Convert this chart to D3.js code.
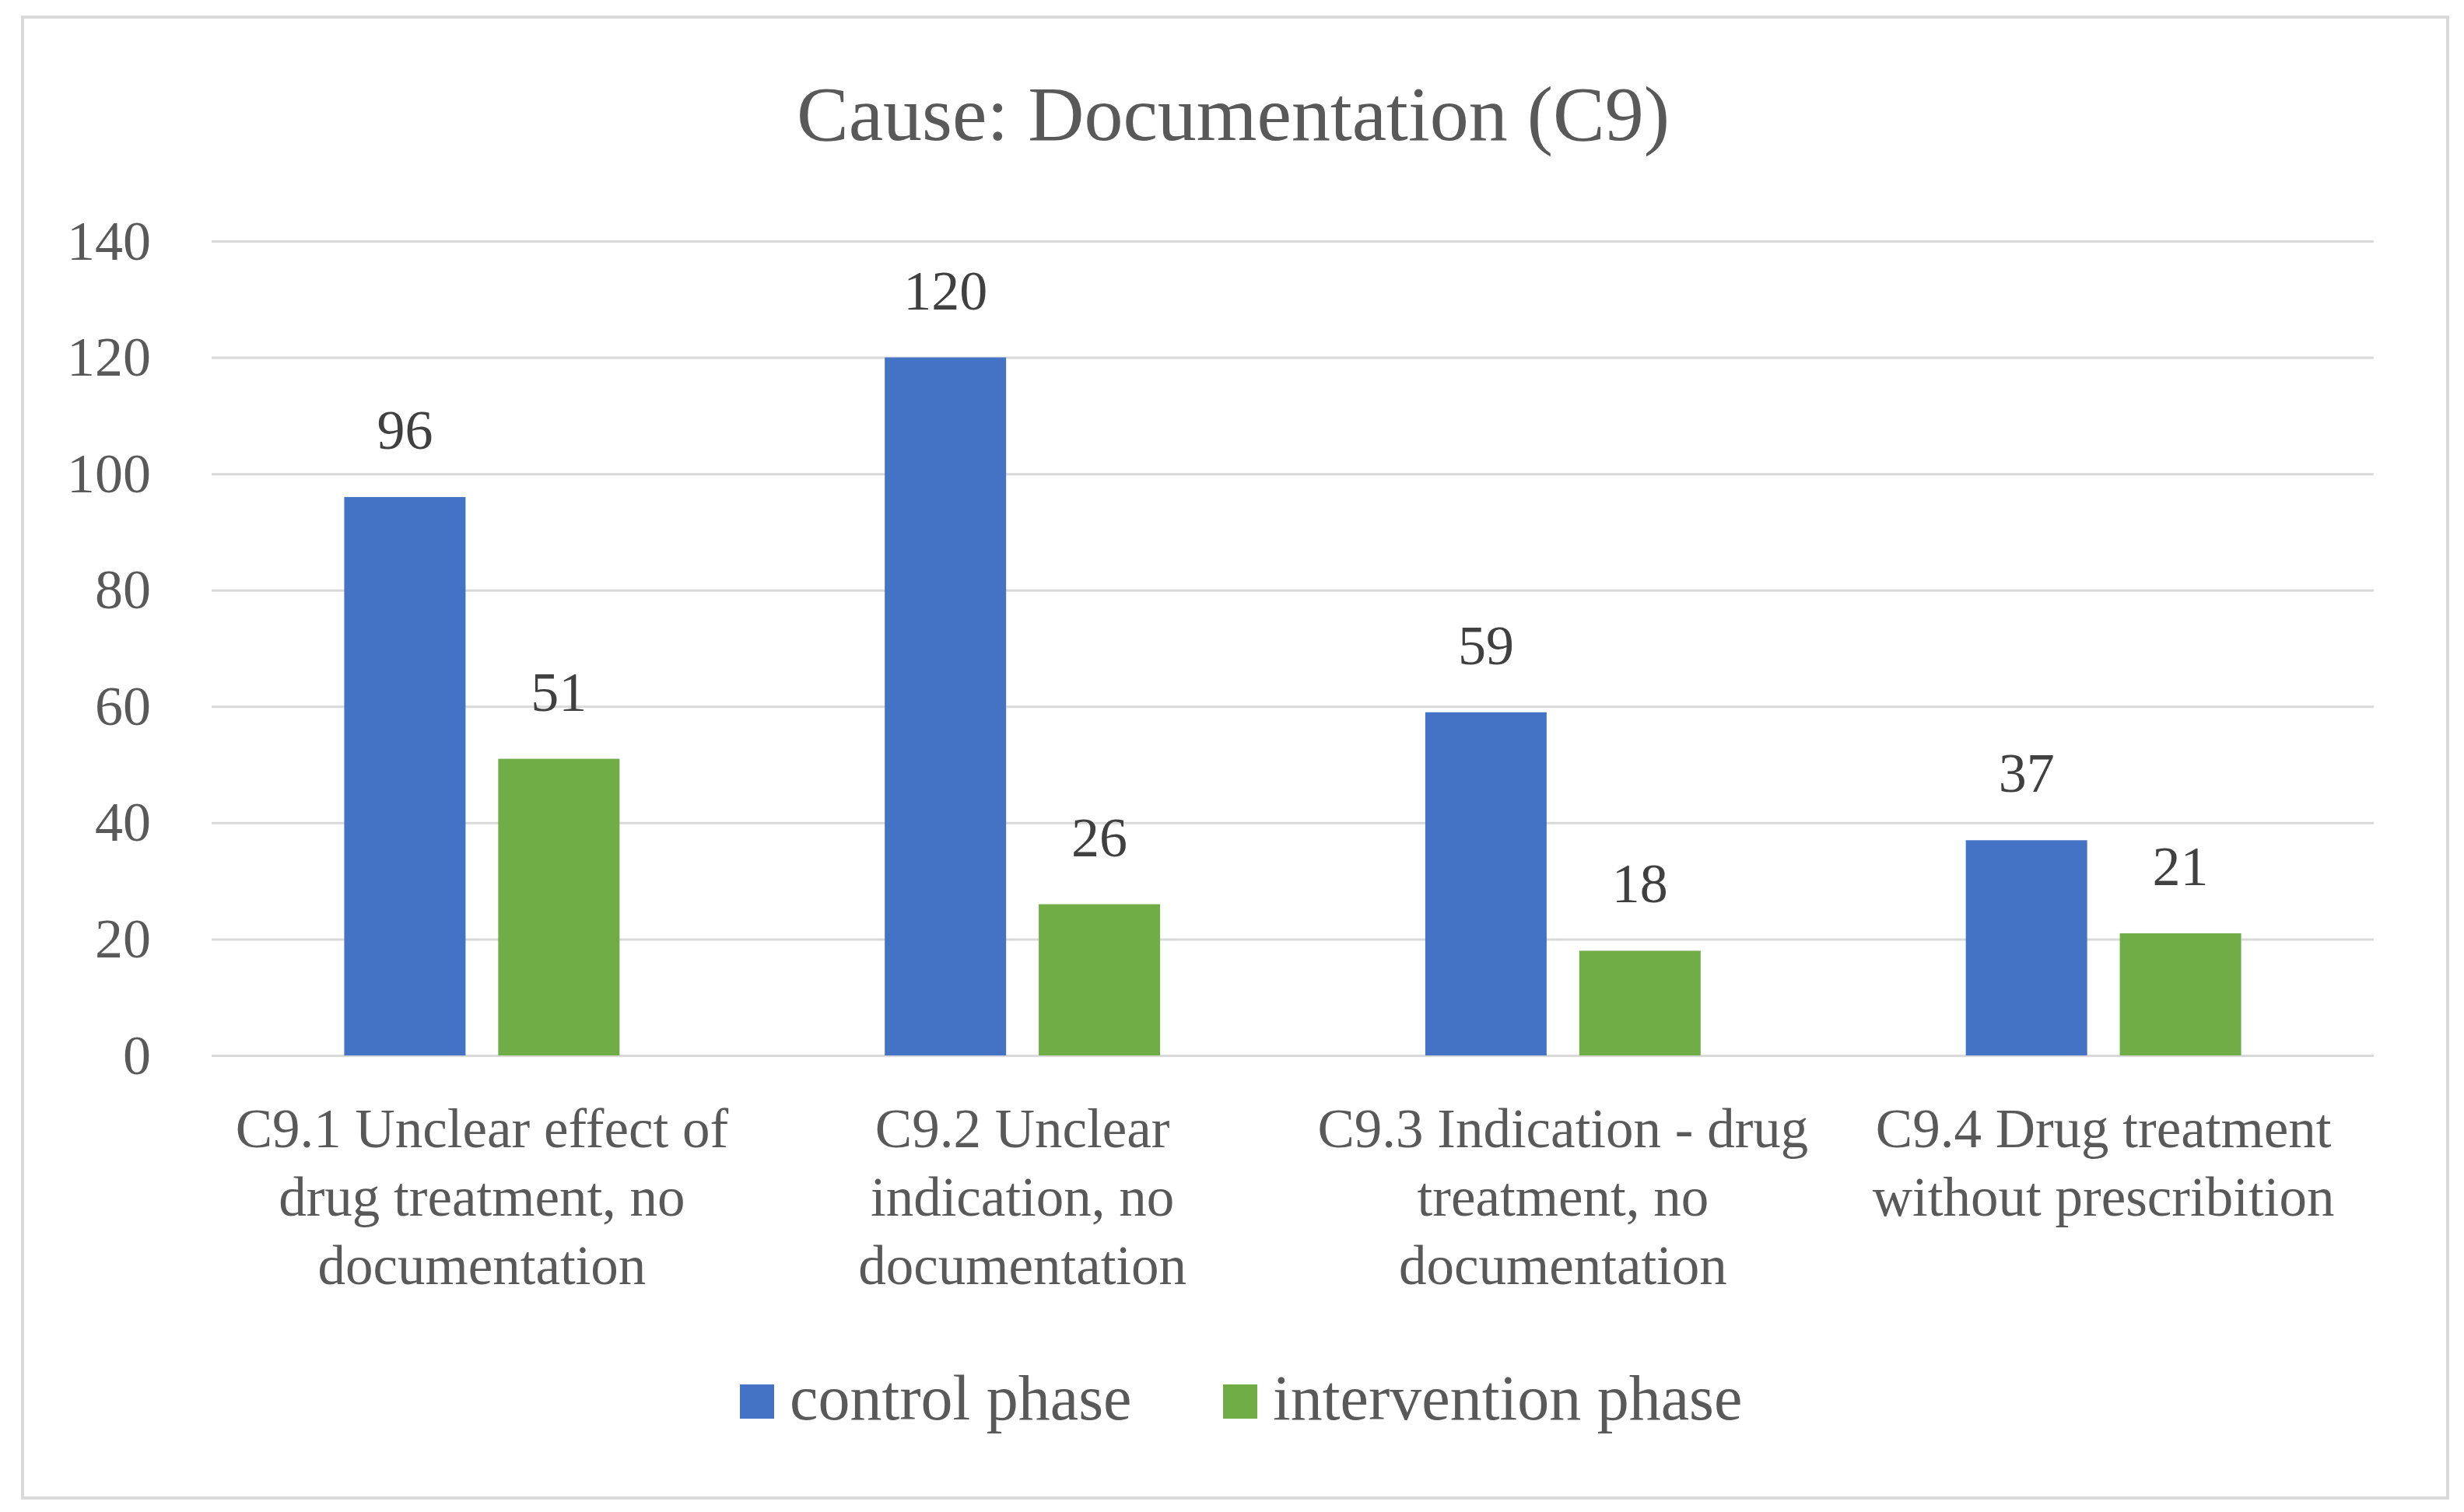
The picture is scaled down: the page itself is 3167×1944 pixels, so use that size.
<!DOCTYPE html>
<html>
<head>
<meta charset="utf-8">
<script src="https://cdn.jsdelivr.net/npm/d3@7"></script>
<style>
  body { margin: 0; background: #fff; }
  text { font-family: "Liberation Serif", "Times New Roman", serif; }
</style>
</head>
<body>
<div id="chart"></div>
<script>
// data
const categories = ["C9.1", "C9.2", "C9.3", "C9.4"];
const categoryLines = [
    ["C9.1 Unclear effect of", "drug treatment, no", "documentation"],
    ["C9.2 Unclear", "indication, no", "documentation"],
    ["C9.3 Indication - drug", "treatment, no", "documentation"],
    ["C9.4 Drug treatment", "without prescribition"]
];
const seriesNames = ["control phase", "intervention phase"];
const controlValues = [96, 120, 59, 37];
const interventionValues = [51, 26, 18, 21];
const yTicks = [0, 20, 40, 60, 80, 100, 120, 140];
const colors = ["#4472C4", "#70AD47"];

const width = 3167, height = 1944;
const plotLeft = 272, plotRight = 3051, plotTop = 310, plotBottom = 1357;

const svg = d3.select("#chart").append("svg")
    .attr("width", width)
    .attr("height", height);

svg.append("rect")
    .attr("x", 29).attr("y", 22)
    .attr("width", 3117).attr("height", 1904)
    .attr("fill", "#fff")
    .attr("stroke", "#d9d9d9")
    .attr("stroke-width", 4);

const yScale = d3.scaleLinear().domain([0, 140]).range([plotBottom, plotTop]);
const x0 = d3.scaleBand().domain(categories).range([plotLeft, plotRight]).padding(0);
const x1 = d3.scaleBand().domain(seriesNames).range([0, x0.bandwidth()])
    .paddingInner(0.212).paddingOuter(0.861);

// y axis + gridlines
const yAxis = svg.append("g")
    .attr("transform", `translate(${plotLeft},0)`)
    .call(d3.axisLeft(yScale).tickValues(yTicks).tickSize(-(plotRight - plotLeft)).tickPadding(78));
yAxis.select(".domain").remove();
yAxis.selectAll("line").attr("stroke", "#d9d9d9").attr("stroke-width", 3);
yAxis.selectAll("text")
    .attr("fill", "#595959")
    .style("font-size", "72px")
    .style("font-family", "Liberation Serif");

// bars
const rows = categories.map((c, i) => ({ cat: c, values: [controlValues[i], interventionValues[i]] }));

const groups = svg.selectAll(".group")
    .data(rows)
    .enter()
    .append("g")
    .attr("transform", d => `translate(${x0(d.cat)},0)`);

groups.selectAll("rect")
    .data(d => d.values.map((v, j) => ({ name: seriesNames[j], value: v, j: j })))
    .enter()
    .append("rect")
    .attr("x", d => x1(d.name))
    .attr("y", d => yScale(d.value))
    .attr("width", x1.bandwidth())
    .attr("height", d => yScale(0) - yScale(d.value))
    .attr("fill", d => colors[d.j]);

groups.selectAll(".val")
    .data(d => d.values.map((v, j) => ({ name: seriesNames[j], value: v })))
    .enter()
    .append("text")
    .attr("class", "val")
    .attr("x", d => x1(d.name) + x1.bandwidth() / 2)
    .attr("y", d => yScale(d.value) - 62)
    .attr("text-anchor", "middle")
    .attr("fill", "#404040")
    .style("font-size", "72px")
    .text(d => d.value);

// category labels
const xAxis = svg.append("g")
    .attr("transform", `translate(0,${plotBottom})`)
    .call(d3.axisBottom(x0).tickSize(0));
xAxis.select(".domain").remove();
xAxis.selectAll("text").each(function(d, i) {
    const t = d3.select(this).text("").attr("y", 0).attr("dy", null)
        .attr("fill", "#595959")
        .style("font-size", "71px")
        .style("font-family", "Liberation Serif");
    categoryLines[i].forEach((line, k) => {
        t.append("tspan").attr("x", 0).attr("y", 118 + k * 88).text(line);
    });
});

// title
svg.append("text")
    .attr("x", 1585)
    .attr("y", 180)
    .attr("text-anchor", "middle")
    .attr("fill", "#595959")
    .style("font-size", "100px")
    .text("Cause: Documentation (C9)");

// legend
const legendX = [951, 1572];
const legend = svg.selectAll(".legend")
    .data(seriesNames)
    .enter()
    .append("g")
    .attr("transform", (d, i) => `translate(${legendX[i]},1780)`);
legend.append("rect")
    .attr("width", 44).attr("height", 44)
    .attr("fill", (d, i) => colors[i]);
legend.append("text")
    .attr("x", 64)
    .attr("y", 45)
    .attr("fill", "#595959")
    .style("font-size", "82px")
    .text(d => d);
</script>
</body>
</html>
